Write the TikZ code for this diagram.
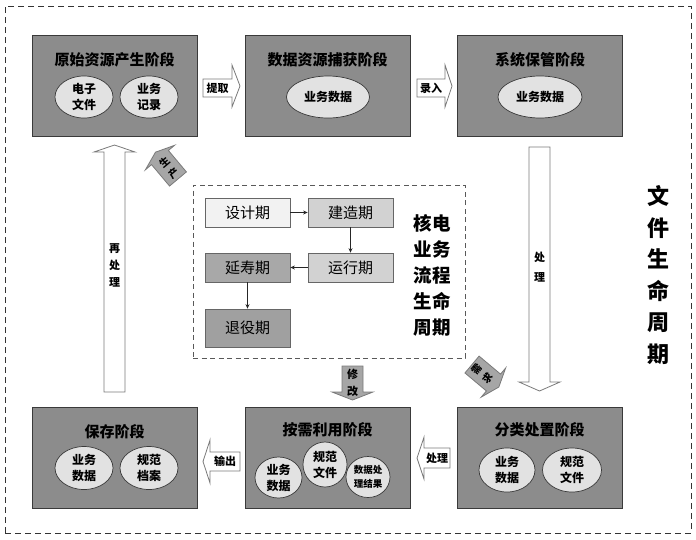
\documentclass[tikz,border=0pt]{standalone}
\usepackage{fontspec}
\setmainfont{Noto Sans CJK SC}
\usetikzlibrary{shapes.geometric,arrows.meta}
\definecolor{stagegray}{HTML}{8C8C8C}
\definecolor{ellgray}{HTML}{E2E2E2}
\definecolor{edgegray}{HTML}{3A3A3A}
\definecolor{arrgray}{HTML}{7A7A7A}
\definecolor{pA}{HTML}{F2F2F2}
\definecolor{pB}{HTML}{D2D2D2}
\definecolor{pC}{HTML}{A8A8A8}
\definecolor{pD}{HTML}{A0A0A0}
\definecolor{modgray}{HTML}{A6A6A6}
\begin{document}
\begin{tikzpicture}[x=1pt,y=-1pt,
  stage/.style={draw=edgegray, line width=0.9pt, fill=stagegray, minimum width=165pt, minimum height=101pt, inner sep=0pt},
  title/.style={font=\bfseries\fontsize{15}{18}\selectfont, inner sep=0pt},
  ell/.style={ellipse, draw=edgegray, line width=0.7pt, fill=ellgray, inner sep=0pt, align=center, font=\bfseries\fontsize{12}{16}\selectfont},
  barrow/.style={draw=arrgray, line width=0.8pt, fill=white, line join=miter},
  alab/.style={font=\bfseries\fontsize{11}{17}\selectfont, inner sep=0pt, align=center},
  phase/.style={draw=black!60, line width=0.7pt, minimum width=85pt, minimum height=29pt, inner sep=0pt, font=\fontsize{15}{18}\selectfont},
  link/.style={draw=black!85, line width=0.9pt, -{Stealth[length=4.5pt,width=4pt]}},
  outerbox/.style={draw=black!80, line width=0.8pt, dash pattern=on 6pt off 4pt},
  innerbox/.style={draw=black!65, line width=0.9pt, dash pattern=on 5pt off 3.5pt, minimum width=272pt, minimum height=173pt, inner sep=0pt}
]
\useasboundingbox (0,0) rectangle (696,539);

% outer dashed frame
\node[outerbox, minimum width=686pt, minimum height=527pt, inner sep=0pt] (frame) at (348,269.5) {};

% stage boxes
\node[stage] (s1) at (114.5,85.5) {};
\node[stage] (s2) at (327.5,85.5) {};
\node[stage] (s3) at (540,85.5) {};
\node[stage] (s4) at (114.5,457.5) {};
\node[stage] (s5) at (327.5,458) {};
\node[stage] (s6) at (539.5,457.5) {};

\node[title] (t1) at (114.5,60) {原始资源产生阶段};
\node[title] (t2) at (327.5,60) {数据资源捕获阶段};
\node[title] (t3) at (540,60) {系统保管阶段};
\node[title] (t4) at (114.5,432) {保存阶段};
\node[title] (t5) at (327.5,430) {按需利用阶段};
\node[title] (t6) at (539.5,430) {分类处置阶段};

% ellipses
\node[ell, minimum width=58pt, minimum height=42pt] (e1a) at (84,97) {电子\\文件};
\node[ell, minimum width=58pt, minimum height=42pt] (e1b) at (149,97) {业务\\记录};
\node[ell, minimum width=83pt, minimum height=42pt] (e2) at (328,97) {业务数据};
\node[ell, minimum width=84pt, minimum height=42pt] (e3) at (540,97) {业务数据};
\node[ell, minimum width=58pt, minimum height=43pt] (e4a) at (84,468) {业务\\数据};
\node[ell, minimum width=58pt, minimum height=43pt] (e4b) at (149,468) {规范\\档案};
\node[ell, minimum width=47pt, minimum height=41pt] (e5a) at (278.5,477.5) {业务\\数据};
\node[ell, minimum width=44pt, minimum height=45pt] (e5b) at (325,464.5) {规范\\文件};
\node[ell, minimum width=44pt, minimum height=41pt, font=\bfseries\fontsize{9.5}{14}\selectfont] (e5c) at (368,477) {数据处\\理结果};
\node[ell, minimum width=56pt, minimum height=44pt] (e6a) at (507,470) {业务\\数据};
\node[ell, minimum width=59pt, minimum height=44pt] (e6b) at (572,470) {规范\\文件};

% horizontal block arrows
\draw[barrow] (203,79) -- (232,79) -- (232,65) -- (240,86) -- (232,107) -- (232,97) -- (203,97) -- cycle;
\node[alab] (a1) at (217.5,88) {提取};
\draw[barrow] (417,79) -- (445,79) -- (445,65) -- (452,86) -- (445,107) -- (445,97) -- (417,97) -- cycle;
\node[alab] (a2) at (431,88) {录入};
\draw[barrow] (240,452) -- (210,452) -- (210,440) -- (203,461.5) -- (210,483) -- (210,471) -- (240,471) -- cycle;
\node[alab] (a3) at (225,461.5) {输出};
\draw[barrow] (450,448) -- (424,448) -- (424,437) -- (417,458) -- (424,479) -- (424,468) -- (450,468) -- cycle;
\node[alab] (a4) at (437,458) {处理};

% vertical block arrows
\draw[barrow] (529,147) -- (550,147) -- (550,382) -- (560,382) -- (539.5,391) -- (519,382) -- (529,382) -- cycle;
\node[alab, font=\bfseries\fontsize{11}{20}\selectfont] (a5) at (539.5,267) {处\\理};
\draw[barrow] (104,392) -- (104,152) -- (94,152) -- (114.5,145) -- (135,152) -- (125,152) -- (125,392) -- cycle;
\node[alab] (a6) at (114.5,265) {再\\处\\理};
\draw[barrow, fill=modgray] (342,366) -- (363,366) -- (363,392) -- (373,392) -- (352.5,400) -- (332,392) -- (342,392) -- cycle;
\node[alab] (a7) at (352.5,383) {修\\改};

% diagonal block arrows
\begin{scope}[shift={(166.4,165.2)}, rotate=40, transform shape]
  \draw[barrow, fill=modgray] (-11,18) -- (-11,-10) -- (-19,-10) -- (0,-17) -- (19,-10) -- (11,-10) -- (11,18) -- cycle;
  \node[alab, font=\bfseries\fontsize{10}{14}\selectfont] (a8) at (0,4) {生\\产};
\end{scope}
\begin{scope}[shift={(485.8,376.1)}, rotate=50, transform shape]
  \draw[barrow, fill=modgray] (-11,-18) -- (-11,10) -- (-19,10) -- (0,17) -- (19,10) -- (11,10) -- (11,-18) -- cycle;
  \node[alab, font=\bfseries\fontsize{10}{14}\selectfont] (a9) at (0,-4) {需\\求};
\end{scope}

% inner life-cycle box
\node[innerbox] (inner) at (329,271.5) {};
\node[phase, fill=pA] (d1) at (247.5,212.5) {设计期};
\node[phase, fill=pB] (d2) at (350.5,212.5) {建造期};
\node[phase, fill=pB] (d3) at (350.5,267.5) {运行期};
\node[phase, fill=pC] (d4) at (247.5,267.5) {延寿期};
\node[phase, fill=pD, minimum height=38pt] (d5) at (247.5,328) {退役期};
\draw[link] (d1) -- (d2);
\draw[link] (d2) -- (d3);
\draw[link] (d3) -- (d4);
\draw[link] (d4) -- (d5);

\node[font=\bfseries\fontsize{18.5}{26}\selectfont, align=center, inner sep=0pt] (nlabel) at (432,275) {核电\\业务\\流程\\生命\\周期};
\node[font=\bfseries\fontsize{22}{31.5}\selectfont, align=center, inner sep=0pt] (flabel) at (658,275) {文\\件\\生\\命\\周\\期};
\end{tikzpicture}
\end{document}
